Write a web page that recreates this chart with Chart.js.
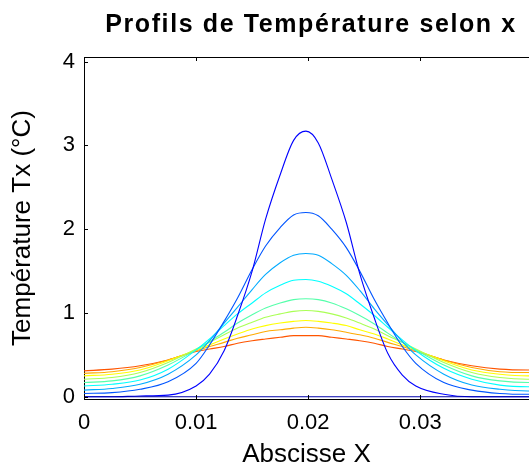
<!DOCTYPE html>
<html>
<head>
<meta charset="utf-8">
<script src="https://cdn.jsdelivr.net/npm/chart.js@4.4.1/dist/chart.umd.min.js"></script>
<style>
html,body{margin:0;padding:0;background:#fff;overflow:hidden}
#wrap{position:relative;width:529px;height:470px}
#ttl{position:absolute;left:84px;width:454px;top:9px;line-height:28px;text-align:center;font-weight:bold;font-size:25px;font-family:"Liberation Sans",Arial,sans-serif;letter-spacing:1.6px;color:#000;white-space:nowrap}
canvas{position:absolute;left:0;top:0}
</style>
</head>
<body>
<div id="wrap">
  <canvas id="ch" width="529" height="470"></canvas>
  <div id="ttl">Profils de Température selon x</div>
</div>
<script>
// abscissa of the profiles (m)
const xs=[0,0.0025,0.005,0.0075,0.01,0.0112,0.0125,0.0137,0.015,0.0162,0.0175,0.0187,0.0198,0.0209,0.0221,0.0234,0.0246,0.0259,0.0271,0.0284,0.0296,0.0321,0.0346,0.0371,0.0396,0.04];
// temperature profiles Tx, one per time step
const t1 =[0,0,0,0,0,0,0,0,0,0,0,0,0,0,0,0,0,0,0,0,0,0,0,0,0,0];
const t2 =[0,0,0.01,0.02,0.13,0.27,0.55,0.97,1.50,2.12,2.65,3.06,3.17,3.03,2.60,2.08,1.47,0.94,0.52,0.26,0.13,0.03,0,0,0,0];
const t3 =[0.04,0.05,0.09,0.18,0.40,0.62,0.90,1.18,1.52,1.80,2.02,2.17,2.20,2.16,2.00,1.78,1.50,1.16,0.88,0.60,0.40,0.17,0.08,0.04,0.03,0.03];
const t4 =[0.08,0.10,0.15,0.27,0.50,0.67,0.88,1.07,1.28,1.46,1.60,1.69,1.71,1.69,1.59,1.45,1.27,1.05,0.86,0.66,0.50,0.27,0.14,0.09,0.07,0.07];
const t5 =[0.13,0.15,0.20,0.33,0.56,0.69,0.85,0.99,1.12,1.24,1.33,1.39,1.40,1.38,1.32,1.23,1.11,0.97,0.83,0.68,0.55,0.34,0.21,0.14,0.12,0.12];
const t6 =[0.17,0.19,0.25,0.38,0.56,0.66,0.77,0.88,0.98,1.06,1.12,1.16,1.17,1.16,1.12,1.05,0.97,0.87,0.76,0.65,0.56,0.38,0.25,0.19,0.17,0.17];
const t7 =[0.21,0.23,0.29,0.41,0.57,0.65,0.74,0.82,0.89,0.95,0.99,1.02,1.03,1.02,0.99,0.94,0.88,0.81,0.73,0.65,0.57,0.41,0.29,0.23,0.21,0.21];
const t8 =[0.25,0.27,0.32,0.43,0.56,0.62,0.69,0.75,0.81,0.85,0.88,0.90,0.91,0.90,0.88,0.85,0.80,0.75,0.69,0.62,0.56,0.43,0.32,0.27,0.25,0.25];
const t9 =[0.28,0.30,0.35,0.44,0.55,0.60,0.65,0.70,0.74,0.78,0.80,0.82,0.83,0.82,0.80,0.77,0.74,0.70,0.65,0.60,0.55,0.44,0.35,0.30,0.29,0.29];
const t10=[0.31,0.33,0.37,0.44,0.54,0.57,0.60,0.64,0.67,0.69,0.71,0.73,0.73,0.73,0.71,0.69,0.67,0.64,0.60,0.57,0.54,0.44,0.37,0.33,0.32,0.32];
const profiles=[t1,t2,t3,t4,t5,t6,t7,t8,t9,t10];
// jet colormap, 10 steps
const jet=['#0000aa','#0000ff','#0055ff','#00aaff','#00ffff','#55ffaa','#aaff55','#ffff00','#ffaa00','#ff5500'];
const xTicks=[0,0.01,0.02,0.03];
const yTicks=[0,1,2,3,4];

const FONT='"Liberation Sans", Arial, sans-serif';

// MATLAB style box: top edge + inward tick marks
const boxTicks={
  id:'boxTicks',
  afterDraw(c){
    const {ctx,chartArea:a,scales:{x,y}}=c;
    ctx.save();
    ctx.strokeStyle='#000';ctx.lineWidth=1;
    ctx.beginPath();
    ctx.moveTo(a.left,a.top+0.5);ctx.lineTo(a.right,a.top+0.5);
    xTicks.forEach(v=>{
      const px=Math.round(x.getPixelForValue(v))+0.5;
      ctx.moveTo(px,a.bottom);ctx.lineTo(px,a.bottom-4);
      ctx.moveTo(px,a.top);ctx.lineTo(px,a.top+4);
    });
    yTicks.forEach(v=>{
      const py=Math.round(y.getPixelForValue(v))+0.5;
      ctx.moveTo(a.left,py);ctx.lineTo(a.left+4,py);
    });
    ctx.stroke();
    ctx.restore();
  }
};

new Chart(document.getElementById('ch').getContext('2d'),{
  type:'line',
  data:{datasets:profiles.map((p,i)=>({
    data:p.map((v,j)=>({x:xs[j],y:v})),
    borderColor:jet[i],borderWidth:1.1,pointRadius:0,fill:false,
    cubicInterpolationMode:'monotone'
  }))},
  options:{
    responsive:false,animation:false,
    layout:{padding:{top:57,left:0,right:0,bottom:0}},
    plugins:{legend:{display:false},tooltip:{enabled:false},title:{display:false}},
    scales:{
      x:{type:'linear',min:0,max:0.0397,
        afterBuildTicks:s=>{s.ticks=xTicks.map(v=>({value:v}))},
        afterFit:s=>{s.height=71;s.paddingLeft=0;s.paddingRight=0},
        grid:{display:true,drawOnChartArea:false,drawTicks:false},
        border:{display:true,color:'#000',width:1},
        ticks:{color:'#000',padding:11,maxRotation:0,autoSkip:false,font:{family:FONT,size:22},callback:v=>String(v)},
        title:{display:true,text:'Abscisse X',color:'#000',font:{family:FONT,size:26},padding:{top:0,bottom:0}}
      },
      y:{type:'linear',min:-0.026,max:4.055,
        afterBuildTicks:s=>{s.ticks=yTicks.map(v=>({value:v}))},
        afterFit:s=>{s.width=84;s.paddingTop=0;s.paddingBottom=0},
        grid:{display:true,drawOnChartArea:false,drawTicks:false},
        border:{display:true,color:'#000',width:1},
        ticks:{color:'#000',padding:9,font:{family:FONT,size:22},callback:v=>String(v)},
        title:{display:true,text:'Température Tx (°C)',color:'#000',font:{family:FONT,size:26},padding:{top:7,bottom:0}}
      }
    }
  },
  plugins:[boxTicks]
});
</script>
</body>
</html>
